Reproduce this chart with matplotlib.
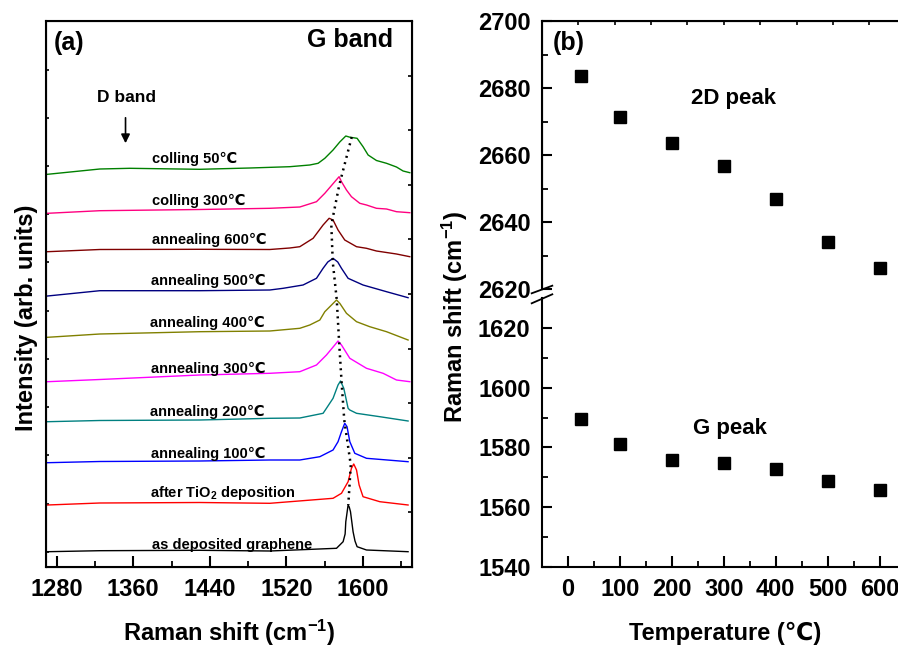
import numpy as np
import matplotlib
matplotlib.use("Agg")
import matplotlib.pyplot as plt
from matplotlib.lines import Line2D
from matplotlib.ticker import MultipleLocator, FixedLocator, NullFormatter

plt.rcParams['font.family'] = ['Liberation Sans', 'DejaVu Sans']
plt.rcParams['font.weight'] = 'bold'
plt.rcParams['mathtext.fontset'] = 'custom'
plt.rcParams['mathtext.rm'] = 'Liberation Sans:bold'
plt.rcParams['mathtext.it'] = 'Liberation Sans:bold'
plt.rcParams['mathtext.bf'] = 'Liberation Sans:bold'
plt.rcParams['mathtext.default'] = 'rm'

# ---------------- data: panel (a) Raman spectra (offset, arb. units) ----------------
labels = ["colling 50\u2103", "colling 300\u2103", "annealing 600\u2103", "annealing 500\u2103",
          "annealing 400\u2103", "annealing 300\u2103", "annealing 200\u2103", "annealing 100\u2103",
          "after TiO$_2$ deposition", "as deposited graphene"]
colors = ["#008000", "#FF0080", "#800000", "#000080", "#808000",
          "#FF00FF", "#008080", "#0000FF", "#FF0000", "#000000"]

x_c50 = [1270.6, 1325.2, 1356.5, 1429.5, 1481.7, 1523.4, 1544.3, 1553.0, 1560.0, 1568.6, 1575.6,
         1581.9, 1586.1, 1593.7, 1599.9, 1605.2, 1613.9, 1624.4, 1634.8, 1641.7, 1648.7]
y_c50 = [392.7, 398, 398.7, 397.7, 399, 400.3, 402, 403.7, 408.7, 417, 425,
         431, 429.8, 428.7, 420.3, 412, 406.5, 403.7, 400, 396, 394.3]

x_c300 = [1270.6, 1325.2, 1429.5, 1502.6, 1533.9, 1551.3, 1560.0, 1570.4, 1574.9, 1577.4, 1582.6,
          1587.8, 1596.5, 1603.5, 1613.9, 1624.4, 1634.8, 1648.7]
y_c300 = [353.7, 356.3, 357.5, 358.7, 360, 365.3, 373.7, 385.3, 390.3, 385.3, 377,
          370.3, 363.7, 362, 358.7, 358, 355.3, 354.3]

x_a600 = [1270.6, 1325.2, 1429.5, 1502.6, 1523.4, 1533.9, 1547.8, 1558.2, 1564.5, 1568.6, 1573.8,
          1580.8, 1593.1, 1603.5, 1613.9, 1634.8, 1648.7]
y_a600 = [315.3, 317.5, 317.7, 317.5, 319, 320.3, 328.7, 342, 348.7, 347, 337,
          327, 320.3, 318.7, 316, 313, 310.3]

x_a500 = [1270.6, 1325.2, 1429.5, 1502.6, 1516.5, 1537.3, 1551.3, 1558.2, 1563.1, 1568.6, 1573.5,
          1577.4, 1584.3, 1599.9, 1624.4, 1646.9]
y_a500 = [271, 276.3, 276.3, 277, 278.7, 282, 288.7, 298.7, 305, 308.7, 305,
          298.7, 288.7, 282, 275.3, 269.3]

x_a400 = [1270.6, 1325.2, 1429.5, 1502.6, 1533.9, 1544.3, 1554.8, 1560.0, 1567.0, 1572.2, 1575.6,
          1582.6, 1593.1, 1606.9, 1624.4, 1646.9]
y_a400 = [229.7, 233, 235.3, 236, 238.7, 242, 247, 255.3, 262, 267, 263.7,
          253.7, 245.3, 240.3, 235.3, 227]

x_a300 = [1270.6, 1325.2, 1429.5, 1502.6, 1533.9, 1551.3, 1561.7, 1570.4, 1573.8, 1577.4, 1586.1,
          1603.5, 1620.8, 1634.8, 1648.7]
y_a300 = [185.3, 187.5, 192, 193.7, 195.3, 202, 212, 222, 226, 222, 208.7,
          198.7, 193.7, 187, 185.3]

x_a200 = [1270.6, 1325.2, 1429.5, 1502.6, 1533.9, 1558.2, 1561.7, 1568.6, 1573.8, 1576.4, 1579.8,
          1584.3, 1586.1, 1593.1, 1617.4, 1646.9]
y_a200 = [145.3, 146.5, 147, 148.7, 149, 153.7, 158.7, 168.7, 182, 186, 178.7,
          158.7, 157, 153.7, 150.3, 146]

x_a100 = [1270.6, 1325.2, 1429.5, 1502.6, 1533.9, 1554.8, 1568.6, 1573.8, 1577.4, 1580.8, 1583.2,
          1586.1, 1591.3, 1603.5, 1646.9]
y_a100 = [104.3, 105.5, 106, 107, 107, 110.3, 117, 125.3, 135.3, 143.7, 140.3,
          125.3, 113.7, 108.7, 105.3]

x_tio2 = [1270.6, 1325.2, 1429.5, 1502.6, 1568.6, 1577.4, 1584.3, 1587.8, 1590.2, 1593.1, 1595.8,
          1599.9, 1617.4, 1646.9]
y_tio2 = [62, 64, 64.5, 63.7, 68.7, 73.7, 85.3, 98.7, 103, 97, 82,
          70.3, 65.3, 62]

x_asdep = [1270.6, 1325.2, 1429.5, 1502.6, 1572.2, 1579.1, 1581.2, 1581.9, 1583.3, 1584.3, 1585.5,
           1586.8, 1588.2, 1589.5, 1591.5, 1593.7, 1603.5, 1646.9]
y_asdep = [15.3, 16.3, 16.7, 16, 18.7, 25.3, 33, 45.3, 55, 62, 60,
           55.3, 45, 35.3, 26, 20.3, 17, 15.3]

spectra_x = [x_c50, x_c300, x_a600, x_a500, x_a400, x_a300, x_a200, x_a100, x_tio2, x_asdep]
spectra_y = [y_c50, y_c300, y_a600, y_a500, y_a400, y_a300, y_a200, y_a100, y_tio2, y_asdep]

# label anchor (left, baseline) for each curve
label_x = [1379.8, 1379.4, 1379.4, 1378.4, 1377.4, 1378.4, 1377.4, 1378.4, 1377.4, 1379.4]
label_y = [403.8, 362.2, 323.2, 282.2, 239.8, 194.2, 150.8, 108.8, 70.3, 18.5]

# G-peak guide (dotted)
guide_x = [1588.1, 1575.1, 1566.8, 1568.3, 1572.5, 1575.1, 1577.7, 1580.3, 1587.1, 1584.5]
guide_y = [430, 382, 342, 305, 267, 222, 182, 147, 102, 62]

# ---------------- data: panel (b) peak positions ----------------
temperature = [25, 100, 200, 300, 400, 500, 600]
peak_2d = [2683.5, 2671.3, 2663.5, 2656.6, 2647.0, 2634.0, 2626.4]
peak_g = [1589.6, 1581.1, 1575.9, 1574.9, 1572.9, 1568.8, 1565.7]

# ---------------- figure ----------------
W, H = 898, 648
fig = plt.figure(figsize=(W / 100, H / 100), dpi=100)

def box(x0, y0, x1, y1):
    return [x0 / W, 1 - y1 / H, (x1 - x0) / W, (y1 - y0) / H]

TICKFS = 17
LABFS = 17

# ---------- panel (a) ----------
ax = fig.add_axes(box(46, 21, 412, 567))
axr = ax.twinx()
for xs, ys, c in zip(spectra_x, spectra_y, colors):
    ax.plot(xs, ys, color=c, lw=1.0)
ax.plot(guide_x, guide_y, color='k', lw=1.8, linestyle=(0, (0.8, 1.8)))
for t, tx, ty in zip(labels, label_x, label_y):
    ax.text(tx, ty, t, fontsize=10.5, fontweight='bold', ha='left', va='baseline')

ax.set_xlim(1269, 1651)
ax.set_ylim(0, 546)
ax.xaxis.set_major_locator(MultipleLocator(80))
ax.xaxis.set_minor_locator(MultipleLocator(40))
ax.yaxis.set_major_locator(FixedLocator(list(np.arange(15.3, 540, 48.2))))
ax.yaxis.set_major_formatter(NullFormatter())
ax.tick_params(axis='x', which='major', direction='in', length=8, width=1.5, pad=8,
               labelsize=TICKFS, top=False)
ax.tick_params(axis='x', which='minor', direction='in', length=4.5, width=1.3, top=False)
ax.tick_params(axis='y', which='major', direction='in', length=2.5, width=1.2, left=True, right=False)
for lab in ax.get_xticklabels():
    lab.set_fontweight('bold')
for s in ax.spines.values():
    s.set_linewidth(1.5)
axr.set_ylim(0, 10)
axr.yaxis.set_major_locator(FixedLocator(list(range(1, 10))))
axr.yaxis.set_major_formatter(NullFormatter())
axr.tick_params(axis='y', direction='in', length=3, width=1.2, left=False, right=True)

ax.text(1277.2, 524, "(a)", fontsize=18, fontweight='bold', ha='left', va='center')
ax.text(1586.2, 527, "G band", fontsize=18, fontweight='bold', ha='center', va='center')
ax.text(1353.4, 469.3, "D band", fontsize=12.5, fontweight='bold', ha='center', va='center')
ax.annotate("", xy=(1352, 421), xytext=(1352, 452),
            arrowprops=dict(arrowstyle='-|>', color='k', lw=1.2, mutation_scale=13))

fig.text(229 / W, 1 - 633 / H, "Raman shift (cm$^{-1}$)", fontsize=LABFS, fontweight='bold',
         ha='center', va='center')
fig.text(27 / W, 1 - 318 / H, "Intensity (arb. units)", fontsize=LABFS, fontweight='bold',
         ha='center', va='center', rotation=90)

# ---------- panel (b) broken axis ----------
XL, XR = 541.7, 905.7
axt = fig.add_axes(box(XL, 21, XR, 289))
axb = fig.add_axes(box(XL, 298, XR, 567))
axtt = axt.twiny()
for a in (axt, axb):
    a.set_xlim(-50, 650)
    for s in a.spines.values():
        s.set_linewidth(1.5)
axt.plot(temperature, peak_2d, 's', color='k', ms=8)
axb.plot(temperature, peak_g, 's', color='k', ms=8)
axt.set_ylim(2620, 2700)
axb.set_ylim(1540, 1630)
axt.spines['bottom'].set_visible(False)
axb.spines['top'].set_visible(False)

axt.yaxis.set_major_locator(MultipleLocator(20))
axt.yaxis.set_minor_locator(MultipleLocator(10))
axb.yaxis.set_major_locator(FixedLocator([1540, 1560, 1580, 1600, 1620]))
axb.yaxis.set_minor_locator(FixedLocator([1550, 1570, 1590, 1610]))
axb.xaxis.set_major_locator(MultipleLocator(100))
axb.xaxis.set_minor_locator(MultipleLocator(50))
axt.tick_params(axis='x', which='both', bottom=False, top=False, labelbottom=False, labeltop=False)
for a in (axt, axb):
    a.tick_params(axis='y', which='major', direction='in', length=7.5, width=1.5, pad=8,
                  labelsize=TICKFS, right=False)
    a.tick_params(axis='y', which='minor', direction='in', length=4.5, width=1.3, right=False)
axb.tick_params(axis='x', which='major', direction='in', length=8, width=1.5, pad=8,
                labelsize=TICKFS, top=False)
axb.tick_params(axis='x', which='minor', direction='in', length=4.5, width=1.3, top=False)
for a in (axt, axb):
    for lab in a.get_xticklabels() + a.get_yticklabels():
        lab.set_fontweight('bold')

axtt.set_xlim(0, 10)
axtt.xaxis.set_major_locator(FixedLocator(list(range(1, 10))))
axtt.xaxis.set_major_formatter(NullFormatter())
axtt.tick_params(axis='x', direction='in', length=3, width=1.2, top=True, bottom=False)
axtt.spines['bottom'].set_visible(False)

# break marks
for (x0, y0, x1, y1) in [(531.7, 293.3, 552.3, 285.7), (531.7, 303.3, 552.3, 294.3)]:
    fig.add_artist(Line2D([x0 / W, x1 / W], [1 - y0 / H, 1 - y1 / H], color='k', lw=1.3,
                          transform=fig.transFigure))

axt.text(-28.3, 2693.4, "(b)", fontsize=18, fontweight='bold', ha='left', va='center')
axt.text(318, 2677, "2D peak", fontsize=16, fontweight='bold', ha='center', va='center')
axb.text(312, 1586.5, "G peak", fontsize=16, fontweight='bold', ha='center', va='center')

fig.text(725 / W, 1 - 633 / H, "Temperature (\u2103)", fontsize=LABFS, fontweight='bold',
         ha='center', va='center')
fig.text(455 / W, 1 - 317 / H, "Raman shift (cm$^{-1}$)", fontsize=LABFS, fontweight='bold',
         ha='center', va='center', rotation=90)

fig.savefig("out.png", dpi=100)
